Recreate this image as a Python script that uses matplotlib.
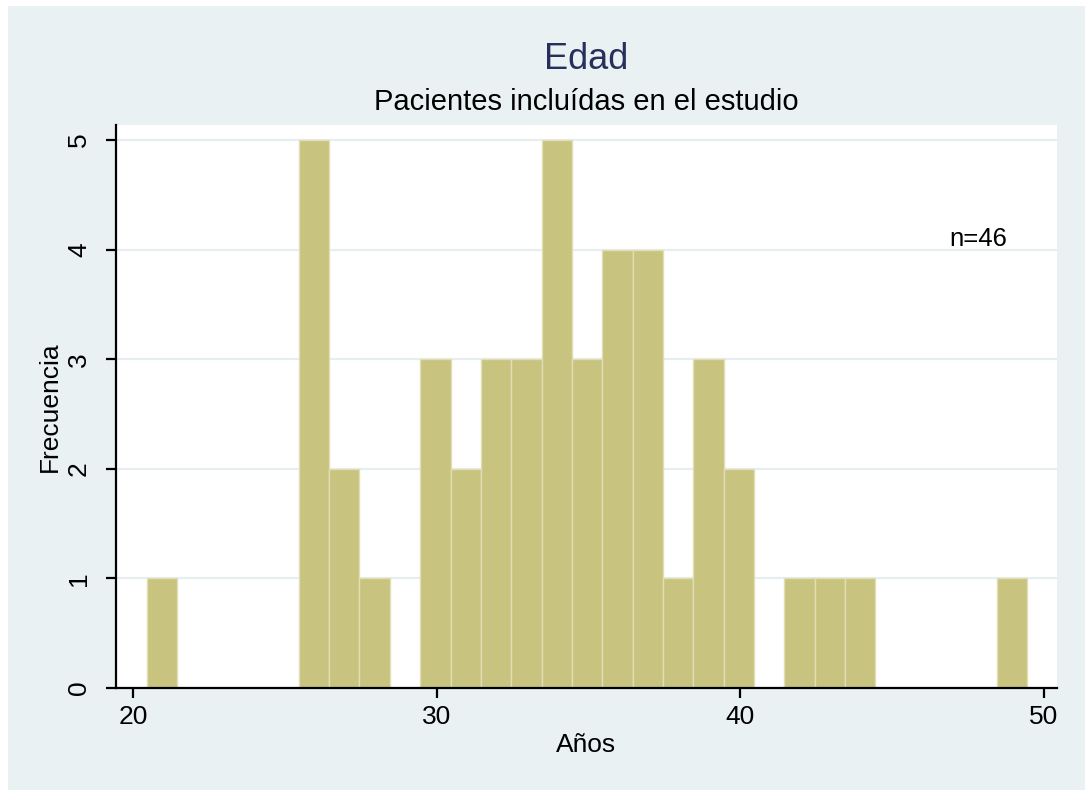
import numpy as np
import matplotlib
matplotlib.use("Agg")
import matplotlib.pyplot as plt
from matplotlib.patches import Rectangle

plt.rcParams['font.family'] = ['Liberation Sans', 'DejaVu Sans']

# Age histogram data (years, frequency)
ages = np.array([21, 26, 27, 28, 30, 31, 32, 33, 34, 35, 36, 37, 38, 39, 40, 42, 43, 44, 49])
counts = np.array([1, 5, 2, 1, 3, 2, 3, 3, 5, 3, 4, 4, 1, 3, 2, 1, 1, 1, 1])
x_ticks = [20, 30, 40, 50]
y_ticks = [0, 1, 2, 3, 4, 5]
n_total = int(counts.sum())

W, H = 1085, 790
fig = plt.figure(figsize=(W / 100, H / 100), dpi=100, facecolor='white')

bg = '#E9F1F3'
fig.patches.append(Rectangle((8 / W, 0), 1 - 8 / W, 1 - 6 / H, transform=fig.transFigure,
                             facecolor=bg, edgecolor='none', zorder=-10))

left, right, top, bottom = 116, 1057, 125, 688
ax = fig.add_axes([left / W, 1 - bottom / H, (right - left) / W, (bottom - top) / H])
ax.set_facecolor('white')

bin_start = 20.45
bin_width = 1.0
edges = bin_start + (ages - ages.min()) * bin_width
ax.bar(edges, counts, width=bin_width, align='edge', color='#C9C380',
       edgecolor='#E2DEB4', linewidth=1.0, zorder=2)

ax.set_xlim(19.43, 50.43)
ax.set_ylim(0, 5.137)
ax.set_xticks(x_ticks)
ax.set_yticks(y_ticks)
ax.yaxis.grid(True, color='#E6EEF1', linewidth=1.6, zorder=0)
ax.set_axisbelow(True)

for s in ('top', 'right'):
    ax.spines[s].set_visible(False)
for s in ('left', 'bottom'):
    ax.spines[s].set_linewidth(1.6)
    ax.spines[s].set_color('black')

ax.tick_params(axis='both', direction='out', length=7, width=1.6, labelsize=19, colors='black')
ax.tick_params(axis='x', pad=5)
ax.tick_params(axis='y', pad=11)
for lab in ax.get_yticklabels():
    lab.set_rotation(90)
    lab.set_va('center')
    lab.set_ha('right')

ax.text(47.82, 4.1, f'n={n_total}', fontsize=18.5, ha='center', va='center', color='black')

cx = (left + right) / 2 / W
fig.text(cx, 1 - 69 / H, 'Edad', fontsize=26, color='#27305C', ha='center', va='baseline')
fig.text(cx, 1 - 109.5 / H, 'Pacientes incluídas en el estudio', fontsize=21, color='black',
         ha='center', va='baseline')
fig.text(cx, 1 - 752.5 / H, 'Años', fontsize=19, color='black', ha='center', va='baseline')
fig.text(50 / W, 1 - (top + bottom) / 2 / H, 'Frecuencia', fontsize=19, color='black',
         rotation=90, ha='center', va='center')

fig.savefig('out.png', dpi=100, facecolor=fig.get_facecolor())
